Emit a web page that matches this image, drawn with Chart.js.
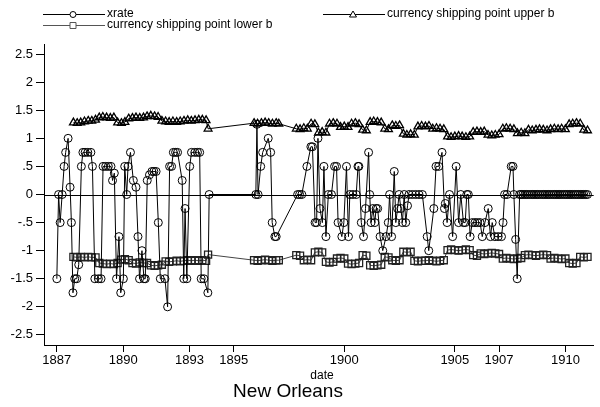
<!DOCTYPE html>
<html>
<head>
<meta charset="utf-8">
<title>New Orleans</title>
<script src="https://cdn.jsdelivr.net/npm/chart.js@4/dist/chart.umd.min.js"></script>
<style>
	body { margin: 0; background: #fff; }
	canvas { display: block; }
</style>
</head>
<body>
<canvas id="myLineChart" width="600" height="407"></canvas>
<script>
"use strict";

// Exchange rate (decimal years)
const xrateDates = [
	1887.00, 1887.08, 1887.15, 1887.24, 1887.33, 1887.40, 1887.51, 1887.60, 1887.66, 1887.73, 1887.81, 1887.90, 1887.99,
	1888.11, 1888.18, 1888.28, 1888.40, 1888.54, 1888.61, 1888.72, 1888.88, 1889.00, 1889.09, 1889.21, 1889.33, 1889.45,
	1889.52, 1889.60, 1889.70, 1889.81, 1889.89, 1890.01, 1890.07, 1890.16, 1890.22, 1890.33, 1890.46, 1890.58, 1890.67,
	1890.74, 1890.85, 1890.94, 1891.00, 1891.09, 1891.19, 1891.30, 1891.39, 1891.49, 1891.59, 1891.68, 1891.89, 1892.01,
	1892.10, 1892.19, 1892.27, 1892.37, 1892.46, 1892.67, 1892.74, 1892.80, 1892.88, 1893.01, 1893.09, 1893.24, 1893.36,
	1893.46, 1893.53, 1893.65, 1893.83, 1893.89,
	1896.00, 1896.05, 1896.10, 1896.22, 1896.31, 1896.56, 1896.67, 1896.74, 1896.86, 1896.92,
	1897.89, 1897.98, 1898.08, 1898.31, 1898.49, 1898.56, 1898.68, 1898.75, 1898.81, 1898.90, 1899.01, 1899.08, 1899.17,
	1899.28, 1899.42, 1899.56, 1899.65, 1899.72, 1899.89, 1899.98, 1900.10, 1900.19, 1900.25, 1900.39, 1900.54, 1900.62,
	1900.66, 1900.77, 1900.87, 1900.96, 1901.10, 1901.15, 1901.21, 1901.29, 1901.38, 1901.44, 1901.51, 1901.62, 1901.74,
	1901.89, 1901.99, 1902.05, 1902.14, 1902.26, 1902.33, 1902.41, 1902.48, 1902.56, 1902.63, 1902.71, 1902.78, 1902.86,
	1902.93, 1903.08, 1903.23, 1903.38, 1903.53, 1903.75, 1903.82, 1904.05, 1904.15, 1904.27, 1904.42, 1904.53, 1904.57,
	1904.65, 1904.76, 1904.90, 1905.06, 1905.17, 1905.27, 1905.39, 1905.47, 1905.54, 1905.61, 1905.69, 1905.79, 1905.91,
	1906.02, 1906.14, 1906.24, 1906.36, 1906.51, 1906.61, 1906.69, 1906.81, 1906.96, 1907.11, 1907.18, 1907.25, 1907.36,
	1907.55, 1907.63, 1907.67, 1907.75, 1907.82, 1907.93,
	1908.00, 1908.08, 1908.17, 1908.25, 1908.33, 1908.42, 1908.50, 1908.58, 1908.67, 1908.75, 1908.83, 1908.92,
	1909.00, 1909.08, 1909.17, 1909.25, 1909.33, 1909.42, 1909.50, 1909.58, 1909.67, 1909.75, 1909.83, 1909.92,
	1910.00, 1910.08, 1910.17, 1910.25, 1910.33, 1910.42, 1910.50, 1910.58, 1910.67, 1910.75, 1910.83, 1910.92, 1911.00,
];
const xrateValues = [
	-1.5, 0, -0.5, 0, 0.5, 0.75, 1, 0.13, -0.5, -1.75, -1.5, -1.5, -1.25,
	0.5, 0.75, 0.75, 0.75, 0.75, 0.5, -1.5, -1.5, -1.5, 0.5, 0.5, 0.5, 0.5,
	0.25, 0.38, -1.5, -0.75, -1.75, -1.5, 0.5, 0, 0.5, 0.75, 0.25, 0.13, -0.75,
	-1.5, -1, -1.5, -1.5, 0.25, 0.35, 0.41, 0.41, 0.41, -0.5, -1.5, -1.5, -2,
	0.5, 0.5, 0.75, 0.75, 0.75, 0.25, -1.5, -0.25, -1.5, 0.5, 0.75, 0.75, 0.75,
	0.75, -1.5, -1.5, -1.75, 0,
	0, 1.25, 0, 0.5, 0.75, 1, 0.75, -0.5, -0.75, -0.75,
	0, 0, 0, 0.5, 0.85, 0.85, -0.5, -0.5, 1, -0.25, -0.5, 0.5, -0.75,
	0, 0, 0.5, 0.5, -0.5, -0.75, -0.5, 0.5, -0.75, 0, 0, 0, 0.5,
	0.5, -0.5, -0.75, -0.25, 0.75, 0, -0.5, -0.25, -0.5, -0.25, -0.25, -0.75, -1,
	-0.75, -0.5, 0, -0.75, 0.41, -0.5, -0.25, 0, -0.25, -0.5, 0, -0.5, -0.2,
	0, 0, 0, 0, 0, -0.75, -1, -0.25, 0.5, 0.5, 0.75, -0.25, -0.16,
	-0.5, 0, -0.75, 0.5, -0.5, 0, -0.5, -0.5, 0, 0, -0.75, -0.5, -0.5,
	-0.5, -0.5, -0.75, -0.5, -0.25, -0.75, -0.5, -0.75, -0.75, -0.75, -0.5, 0, 0,
	0.5, 0.5, 0, -0.8, -1.5, 0,
	0, 0, 0, 0, 0, 0, 0, 0, 0, 0, 0, 0,
	0, 0, 0, 0, 0, 0, 0, 0, 0, 0, 0, 0,
	0, 0, 0, 0, 0, 0, 0, 0, 0, 0, 0, 0, 0,
];

// Currency shipping points, same dates for both bounds
const bandDates = [
	1887.75, 1887.92, 1888.08, 1888.25, 1888.42, 1888.58, 1888.75, 1888.92, 1889.08, 1889.25, 1889.42, 1889.58, 1889.75,
	1889.92, 1890.08, 1890.25, 1890.42, 1890.58, 1890.75, 1890.92, 1891.08, 1891.25, 1891.42, 1891.58, 1891.75, 1891.92,
	1892.08, 1892.25, 1892.42, 1892.58, 1892.75, 1892.92, 1893.08, 1893.25, 1893.42, 1893.58, 1893.75, 1893.84,
	1895.92, 1896.08, 1896.25, 1896.42, 1896.58, 1896.75, 1896.92, 1897.04,
	1897.83, 1898.00, 1898.17, 1898.33, 1898.50, 1898.67, 1898.83, 1899.00, 1899.17, 1899.33, 1899.50, 1899.67, 1899.83,
	1900.00, 1900.17, 1900.33, 1900.50, 1900.67, 1900.83, 1901.00, 1901.17, 1901.33, 1901.50, 1901.67, 1901.83,
	1902.00, 1902.17, 1902.33, 1902.50, 1902.67, 1902.83, 1903.00, 1903.17, 1903.33, 1903.50, 1903.67, 1903.83,
	1904.00, 1904.17, 1904.33, 1904.50, 1904.67, 1904.83, 1905.00, 1905.17, 1905.33, 1905.50, 1905.67, 1905.83,
	1906.00, 1906.17, 1906.33, 1906.50, 1906.67, 1906.83, 1907.00, 1907.17, 1907.33, 1907.50, 1907.67, 1907.83,
	1908.00, 1908.17, 1908.33, 1908.50, 1908.67, 1908.83, 1909.00, 1909.17, 1909.33, 1909.50, 1909.67, 1909.83,
	1910.00, 1910.17, 1910.33, 1910.50, 1910.67, 1910.83, 1911.00,
];
const upperValues = [
	1.28, 1.27, 1.28, 1.30, 1.31, 1.31, 1.33, 1.37, 1.38, 1.37, 1.36, 1.37, 1.28,
	1.27, 1.29, 1.35, 1.36, 1.37, 1.36, 1.37, 1.39, 1.40, 1.39, 1.38, 1.31, 1.30,
	1.29, 1.30, 1.29, 1.30, 1.31, 1.32, 1.31, 1.32, 1.33, 1.33, 1.32, 1.17,
	1.27, 1.26, 1.27, 1.28, 1.27, 1.26, 1.27, 1.26,
	1.17, 1.16, 1.18, 1.17, 1.26, 1.25, 1.10, 1.11, 1.10, 1.26, 1.27, 1.26, 1.20,
	1.21, 1.20, 1.26, 1.27, 1.25, 1.15, 1.14, 1.29, 1.30, 1.29, 1.28, 1.17,
	1.16, 1.23, 1.22, 1.23, 1.08, 1.06, 1.07, 1.06, 1.21, 1.22, 1.21, 1.22,
	1.17, 1.18, 1.17, 1.16, 1.03, 1.02, 1.03, 1.04, 1.03, 1.02, 1.03, 1.11,
	1.12, 1.11, 1.12, 1.06, 1.05, 1.06, 1.07, 1.17, 1.18, 1.17, 1.16, 1.09,
	1.10, 1.09, 1.15, 1.14, 1.15, 1.16, 1.15, 1.14, 1.16, 1.17, 1.16, 1.17,
	1.16, 1.25, 1.26, 1.27, 1.26, 1.15, 1.14,
];
const lowerValues = [
	-1.11, -1.12, -1.11, -1.12, -1.11, -1.12, -1.12, -1.22, -1.23, -1.24, -1.23, -1.24, -1.22,
	-1.16, -1.15, -1.17, -1.22, -1.23, -1.21, -1.22, -1.22, -1.26, -1.27, -1.26, -1.25, -1.19,
	-1.20, -1.19, -1.18, -1.19, -1.18, -1.17, -1.18, -1.17, -1.18, -1.17, -1.18, -1.07,
	-1.17, -1.18, -1.17, -1.16, -1.17, -1.18, -1.17, -1.17,
	-1.08, -1.09, -1.17, -1.16, -1.17, -1.03, -1.02, -1.03, -1.20, -1.21, -1.20, -1.14, -1.13,
	-1.14, -1.23, -1.24, -1.23, -1.22, -1.08, -1.09, -1.26, -1.27, -1.26, -1.25, -1.11,
	-1.12, -1.17, -1.18, -1.17, -1.02, -1.03, -1.02, -1.18, -1.19, -1.18, -1.18, -1.17,
	-1.18, -1.19, -1.18, -1.17, -0.99, -0.98, -0.99, -1.00, -0.99, -0.98, -0.99, -1.08,
	-1.09, -1.05, -1.06, -1.05, -1.04, -1.05, -1.06, -1.14, -1.13, -1.14, -1.15, -1.14,
	-1.13, -1.08, -1.07, -1.08, -1.09, -1.08, -1.07, -1.08, -1.14, -1.13, -1.14, -1.15,
	-1.14, -1.22, -1.23, -1.22, -1.11, -1.12, -1.11,
];

// Axis ticks
const yearTicks = [1887, 1890, 1893, 1895, 1900, 1905, 1907, 1910];
const valueTicks = [-2.5, -2, -1.5, -1, -0.5, 0, 0.5, 1, 1.5, 2, 2.5];

const FONT = "'Liberation Sans', Arial, sans-serif";

function toPoints(dates, values) {
	return dates.map(function (d, i) {
		return { x: d, y: values[i] };
	});
}

// Stata style labels: .5 instead of 0.5
function formatValue(v) {
	return String(v).replace(/^(-?)0\./, "$1.");
}

// Horizontal reference line at 0
const zeroLine = {
	id: "zeroLine",
	beforeDatasetsDraw(chart) {
		const ctx = chart.ctx;
		const area = chart.chartArea;
		const y = Math.round(chart.scales.y.getPixelForValue(0)) + 0.5;
		ctx.save();
		ctx.strokeStyle = "#000";
		ctx.lineWidth = 1;
		ctx.beginPath();
		ctx.moveTo(area.left, y);
		ctx.lineTo(area.right, y);
		ctx.stroke();
		ctx.restore();
	},
};

// Legend on top and the titles below the plot
const texts = {
	id: "texts",
	afterDraw(chart) {
		const ctx = chart.ctx;
		ctx.save();
		ctx.fillStyle = "#000";
		ctx.lineWidth = 1;

		function entry(x, y, color, marker, label) {
			ctx.strokeStyle = color;
			ctx.beginPath();
			ctx.moveTo(x, y + 0.5);
			ctx.lineTo(x + 62, y + 0.5);
			ctx.stroke();
			const mx = x + 30;
			ctx.fillStyle = "#fff";
			ctx.beginPath();
			if (marker === "circle") {
				ctx.arc(mx, y + 0.5, 3, 0, Math.PI * 2);
			} else if (marker === "rect") {
				ctx.rect(mx - 3, y - 2.5, 6, 6);
			} else {
				ctx.moveTo(mx, y - 3);
				ctx.lineTo(mx + 3.5, y + 3);
				ctx.lineTo(mx - 3.5, y + 3);
				ctx.closePath();
			}
			ctx.fill();
			ctx.stroke();
			ctx.fillStyle = "#000";
			ctx.font = "12px " + FONT;
			ctx.textAlign = "left";
			ctx.textBaseline = "middle";
			ctx.fillText(label, x + 64, y);
		}

		entry(43, 14, "#000", "circle", "xrate");
		entry(323, 14, "#000", "triangle", "currency shipping point upper b");
		entry(43, 25, "#555", "rect", "currency shipping point lower b");

		ctx.fillStyle = "#000";
		ctx.textAlign = "center";
		ctx.textBaseline = "alphabetic";
		ctx.font = "12px " + FONT;
		ctx.fillText("date", 322, 379);
		ctx.font = "19px " + FONT;
		ctx.fillText("New Orleans", 288, 397);
		ctx.restore();
	},
};

function generateLineChart() {
	const ctx = document.getElementById("myLineChart");

	new Chart(ctx, {
		type: "line",
		data: {
			datasets: [
				{
					label: "xrate",
					data: toPoints(xrateDates, xrateValues),
					borderColor: "#000",
					borderWidth: 1,
					pointStyle: "circle",
					pointRadius: 4,
					pointBorderWidth: 1,
					pointBorderColor: "#000",
					pointBackgroundColor: "rgba(0,0,0,0)",
					tension: 0,
				},
				{
					label: "currency shipping point upper b",
					data: toPoints(bandDates, upperValues),
					borderColor: "#000",
					borderWidth: 1,
					pointStyle: "triangle",
					pointRadius: 4.5,
					pointBorderWidth: 1.3,
					pointBorderColor: "#000",
					pointBackgroundColor: "rgba(0,0,0,0)",
					tension: 0,
				},
				{
					label: "currency shipping point lower b",
					data: toPoints(bandDates, lowerValues),
					borderColor: "#444",
					borderWidth: 1,
					pointStyle: "rect",
					pointRadius: 5,
					pointBorderWidth: 1.3,
					pointBorderColor: "#222",
					pointBackgroundColor: "rgba(0,0,0,0)",
					tension: 0,
				},
			],
		},
		options: {
			responsive: false,
			animation: false,
			devicePixelRatio: 1,
			layout: {
				padding: { top: 44, right: 0, bottom: 0, left: 0 },
			},
			plugins: {
				legend: { display: false },
				tooltip: { enabled: false },
			},
			scales: {
				x: {
					type: "linear",
					min: 1886.42,
					max: 1911.28,
					afterBuildTicks: function (scale) {
						scale.ticks = yearTicks.map(function (v) {
							return { value: v };
						});
					},
					afterFit: function (scale) {
						scale.height = 62;
					},
					grid: {
						drawOnChartArea: false,
						drawTicks: true,
						tickLength: 7,
						tickColor: "#000",
						color: "#000",
					},
					border: { display: true, color: "#000", width: 1 },
					ticks: {
						color: "#000",
						font: { family: FONT, size: 13 },
						padding: 1,
						maxRotation: 0,
						autoSkip: false,
						callback: function (v) {
							return String(v);
						},
					},
				},
				y: {
					min: -2.68,
					max: 2.68,
					afterBuildTicks: function (scale) {
						scale.ticks = valueTicks.map(function (v) {
							return { value: v };
						});
					},
					afterFit: function (scale) {
						scale.width = 44;
					},
					grid: {
						drawOnChartArea: false,
						drawTicks: true,
						tickLength: 8,
						tickColor: "#000",
						color: "#000",
					},
					border: { display: true, color: "#000", width: 1 },
					ticks: {
						color: "#000",
						font: { family: FONT, size: 13 },
						padding: 3,
						autoSkip: false,
						callback: function (v) {
							return formatValue(v);
						},
					},
				},
			},
		},
		plugins: [zeroLine, texts],
	});
}

generateLineChart();
</script>
</body>
</html>
